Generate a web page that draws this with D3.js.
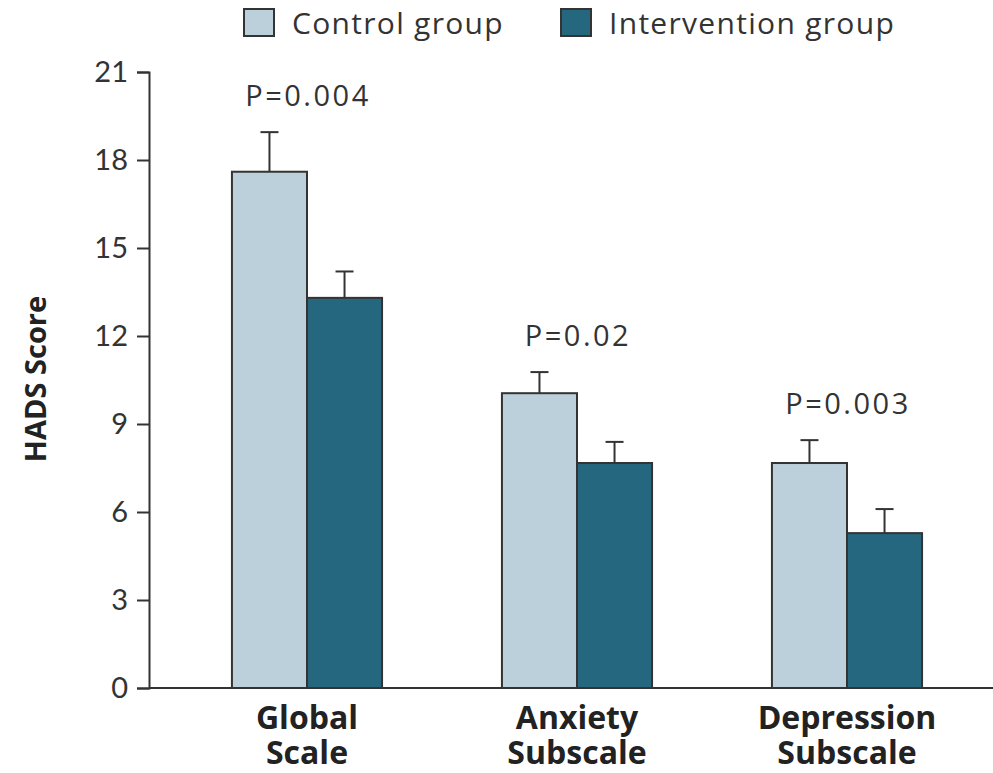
<!DOCTYPE html>
<html>
<head>
<meta charset="utf-8">
<script src="https://cdn.jsdelivr.net/npm/d3@7"></script>
<style>
  body { margin: 0; background: #fff; }
  svg { display: block; }
</style>
</head>
<body>
<div id="chart"></div>
<script>
// data
var categories = [["Global", "Scale"], ["Anxiety", "Subscale"], ["Depression", "Subscale"]];
var groups = ["Control group", "Intervention group"];
var controlMean = [17.6, 10.05, 7.67];
var controlErr = [1.35, 0.72, 0.78];
var interventionMean = [13.3, 7.67, 5.28];
var interventionErr = [0.9, 0.72, 0.82];
var pValues = ["P=0.004", "P=0.02", "P=0.003"];
var yTicks = [0, 3, 6, 9, 12, 15, 18, 21];

var colors = ["#bbd0da", "#25677f"];

var width = 993, height = 773;
var font = "'Open Sans', Lato, sans-serif";

var svg = d3.select("#chart").append("svg")
    .attr("width", width)
    .attr("height", height);

var yScale = d3.scaleLinear()
    .domain([0, 21])
    .range([688, 72]);

var x0 = d3.scaleBand()
    .domain(d3.range(categories.length))
    .range([172, 982])
    .paddingInner(0.444)
    .paddingOuter(0.222);

var x1 = d3.scaleBand()
    .domain(d3.range(groups.length))
    .range([0, x0.bandwidth()]);

var rows = categories.map(function (c, i) {
    return {
        i: i,
        label: c,
        p: pValues[i],
        bars: [
            { g: 0, mean: controlMean[i], err: controlErr[i] },
            { g: 1, mean: interventionMean[i], err: interventionErr[i] }
        ]
    };
});

// y axis
var yAxis = d3.axisLeft(yScale)
    .tickValues(yTicks)
    .tickSize(12)
    .tickPadding(9);

var yg = svg.append("g")
    .attr("transform", "translate(149,0)")
    .call(yAxis);
yg.selectAll("path, line").attr("stroke", "#333").attr("stroke-width", 2);
yg.selectAll("text")
    .attr("fill", "#333")
    .style("font-family", "Lato, sans-serif")
    .style("font-size", "29px");

// x axis line
svg.append("line")
    .attr("x1", 149).attr("x2", width)
    .attr("y1", yScale(0)).attr("y2", yScale(0))
    .attr("stroke", "#333")
    .attr("stroke-width", 2);

// bars
var grp = svg.selectAll(".grp")
    .data(rows)
    .enter().append("g")
    .attr("class", "grp")
    .attr("transform", function (d) { return "translate(" + x0(d.i) + ",0)"; });

var bar = grp.selectAll(".bar")
    .data(function (d) { return d.bars; })
    .enter().append("g");

// error bars
bar.append("line")
    .attr("x1", function (d) { return x1(d.g) + x1.bandwidth() / 2; })
    .attr("x2", function (d) { return x1(d.g) + x1.bandwidth() / 2; })
    .attr("y1", function (d) { return yScale(d.mean); })
    .attr("y2", function (d) { return yScale(d.mean + d.err); })
    .attr("stroke", "#333").attr("stroke-width", 2);
bar.append("line")
    .attr("x1", function (d) { return x1(d.g) + x1.bandwidth() / 2 - 9; })
    .attr("x2", function (d) { return x1(d.g) + x1.bandwidth() / 2 + 9; })
    .attr("y1", function (d) { return yScale(d.mean + d.err); })
    .attr("y2", function (d) { return yScale(d.mean + d.err); })
    .attr("stroke", "#333").attr("stroke-width", 2);

bar.append("rect")
    .attr("x", function (d) { return x1(d.g); })
    .attr("width", x1.bandwidth())
    .attr("y", function (d) { return yScale(d.mean); })
    .attr("height", function (d) { return yScale(0) - yScale(d.mean); })
    .attr("fill", function (d) { return colors[d.g]; })
    .attr("stroke", "#333")
    .attr("stroke-width", 2);

// p values
grp.append("text")
    .attr("x", x0.bandwidth() / 2 + 1)
    .attr("y", function (d) { return yScale(d.bars[0].mean + d.bars[0].err) - 26; })
    .attr("text-anchor", "middle")
    .attr("fill", "#333")
    .style("font-family", font)
    .style("font-size", "29px")
    .style("letter-spacing", "2.5px")
    .text(function (d) { return d.p; });

// category labels
var lab = grp.append("text")
    .attr("text-anchor", "middle")
    .attr("fill", "#222")
    .style("font-family", font)
    .style("font-weight", "bold")
    .style("font-size", "32px");
lab.selectAll("tspan")
    .data(function (d) { return d.label; })
    .enter().append("tspan")
    .attr("x", x0.bandwidth() / 2)
    .attr("y", function (d, i) { return 729 + i * 35; })
    .text(function (d) { return d; });

// y title
svg.append("text")
    .attr("transform", "translate(46,379) rotate(-90)")
    .attr("text-anchor", "middle")
    .attr("fill", "#222")
    .style("font-family", font)
    .style("font-weight", "bold")
    .style("font-size", "29px")
    .text("HADS Score");

// legend
var legX = [244, 561];
var leg = svg.selectAll(".leg")
    .data(groups)
    .enter().append("g")
    .attr("transform", function (d, i) { return "translate(" + legX[i] + ",9)"; });
leg.append("rect")
    .attr("width", 30).attr("height", 27)
    .attr("fill", function (d, i) { return colors[i]; })
    .attr("stroke", "#333")
    .attr("stroke-width", 2);
leg.append("text")
    .attr("x", 48)
    .attr("y", 25)
    .attr("fill", "#333")
    .style("font-family", font)
    .style("font-size", "30px")
    .style("letter-spacing", "1.3px")
    .text(function (d) { return d; });
</script>
</body>
</html>
